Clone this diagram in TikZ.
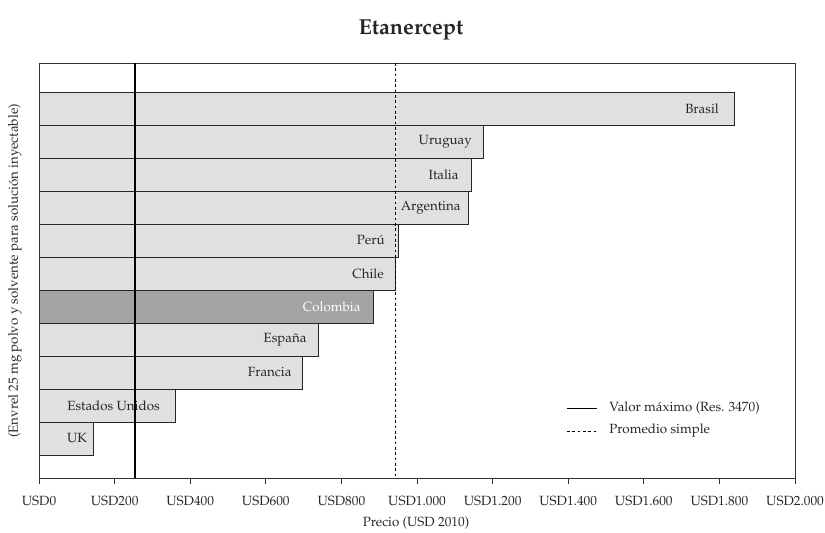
\documentclass[tikz,border=0pt]{standalone}
\usepackage[T1]{fontenc}
\usepackage{mathpazo}
\usetikzlibrary{positioning}
\tikzset{x=0.6pt,y=-0.6pt}
\tikzset{
  bar/.style={draw=black!85,fill=black!12,line width=0.5pt},
  barcol/.style={draw=black!85,fill=black!36,line width=0.5pt},
  lab/.style={anchor=east,xshift=-3.3pt,font=\fontsize{8}{10}\selectfont,text=black!85},
  tick/.style={anchor=north,font=\fontsize{8}{10}\selectfont,text=black!85},
  maxline/.style={line width=0.9pt,black},
  avgline/.style={line width=0.6pt,black,dash pattern=on 1.6pt off 1.6pt},
}

\begin{document}
\begin{tikzpicture}

  \def\xo{39}     % USD0
  \def\s{0.378}   % px per USD
  \def\ytop{63}
  \def\ybot{478}

  \useasboundingbox (0,0) rectangle (825,533);

  \node[font=\fontsize{13}{15}\selectfont\bfseries,text=black!85] (title) at (411,30) {Etanercept};

  % bars
  \draw[bar] (\xo,92) rectangle ({\xo+\s*1839},125);
  \draw[bar] (\xo,125) rectangle ({\xo+\s*1175},158);
  \draw[bar] (\xo,158) rectangle ({\xo+\s*1143},191);
  \draw[bar] (\xo,191) rectangle ({\xo+\s*1135},224);
  \draw[bar] (\xo,224) rectangle ({\xo+\s*952},257);
  \draw[bar] (\xo,257) rectangle ({\xo+\s*942},290);
  \draw[barcol] (\xo,290) rectangle ({\xo+\s*886},323);
  \draw[bar] (\xo,323) rectangle ({\xo+\s*738},356);
  \draw[bar] (\xo,356) rectangle ({\xo+\s*698},389);
  \draw[bar] (\xo,389) rectangle ({\xo+\s*360},422);
  \draw[bar] (\xo,422) rectangle ({\xo+\s*143},455);

  \node[lab,xshift=-2.4pt] (brasil) at ({\xo+\s*1839},108.5) {Brasil};
  \node[lab] (uruguay) at ({\xo+\s*1175},141.5) {Uruguay};
  \node[lab,xshift=-0.7pt] (italia) at ({\xo+\s*1143},174.5) {Italia};
  \node[lab,xshift=2.3pt] (argentina) at ({\xo+\s*1135},207.5) {Argentina};
  \node[lab,xshift=-1.7pt] (peru) at ({\xo+\s*952},240.5) {Perú};
  \node[lab] (chile) at ({\xo+\s*942},273.5) {Chile};
  \node[lab,text=white,xshift=-1.2pt] (colombia) at ({\xo+\s*886},306.5) {Colombia};
  \node[lab] (espana) at ({\xo+\s*738},339.5) {España};
  \node[lab] (francia) at ({\xo+\s*698},372.5) {Francia};
  \node[lab,xshift=-2.4pt] (eeuu) at ({\xo+\s*360},405.5) {Estados Unidos};
  \node[lab,xshift=3.3pt] (uk) at ({\xo+\s*143},438.5) {UK};

  % frame
  \draw[black!80,line width=0.6pt] (\xo,\ytop) rectangle (795,\ybot);

  % reference lines
  \coordinate (maxtop) at ({\xo+\s*254},\ytop);
  \coordinate (maxbot) at ({\xo+\s*254},\ybot);
  \coordinate (avgtop) at ({\xo+\s*944},\ytop);
  \coordinate (avgbot) at ({\xo+\s*944},\ybot);
  \draw[maxline] (maxtop) -- (maxbot);
  \draw[avgline] (avgtop) -- (avgbot);

  % x axis ticks
  \draw[black!80,line width=0.6pt] (39,\ybot) -- (39,484);
  \draw[black!80,line width=0.6pt] (114.6,\ybot) -- (114.6,484);
  \draw[black!80,line width=0.6pt] (190.2,\ybot) -- (190.2,484);
  \draw[black!80,line width=0.6pt] (265.8,\ybot) -- (265.8,484);
  \draw[black!80,line width=0.6pt] (341.4,\ybot) -- (341.4,484);
  \draw[black!80,line width=0.6pt] (417,\ybot) -- (417,484);
  \draw[black!80,line width=0.6pt] (492.6,\ybot) -- (492.6,484);
  \draw[black!80,line width=0.6pt] (568.2,\ybot) -- (568.2,484);
  \draw[black!80,line width=0.6pt] (643.8,\ybot) -- (643.8,484);
  \draw[black!80,line width=0.6pt] (719.4,\ybot) -- (719.4,484);
  \draw[black!80,line width=0.6pt] (795,\ybot) -- (795,484);

  \node[tick] (t0) at (39,490) {USD0};
  \node[tick] (t200) at (114.6,490) {USD200};
  \node[tick] (t400) at (190.2,490) {USD400};
  \node[tick] (t600) at (265.8,490) {USD600};
  \node[tick] (t800) at (341.4,490) {USD800};
  \node[tick] (t1000) at (417,490) {USD1.000};
  \node[tick] (t1200) at (492.6,490) {USD1.200};
  \node[tick] (t1400) at (568.2,490) {USD1.400};
  \node[tick] (t1600) at (643.8,490) {USD1.600};
  \node[tick] (t1800) at (719.4,490) {USD1.800};
  \node[tick] (t2000) at (795,490) {USD2.000};

  \node[font=\fontsize{8}{10}\selectfont,text=black!85] (xlab) at (416,523) {Precio (USD 2010)};
  \node[rotate=90,font=\fontsize{8}{10}\selectfont,text=black!85] (ylab) at (15,271) {(Envrel 25 mg polvo y solvente para solución inyectable)};

  % legend
  \node[anchor=west,font=\fontsize{8}{10}\selectfont,text=black!85] (legmax) at (603.5,408) {Valor máximo (Res. 3470)};
  \node[anchor=west,font=\fontsize{8}{10}\selectfont,text=black!85] (legavg) at (603.5,431) {Promedio simple};
  \coordinate (lm1) at (567,408);
  \coordinate (la1) at (567,431);
  \draw[black,line width=0.6pt] (lm1) -- ([xshift=-4pt]legmax.west);
  \draw[avgline] (la1) -- ([xshift=-4pt]legavg.west);

\end{tikzpicture}
\end{document}
